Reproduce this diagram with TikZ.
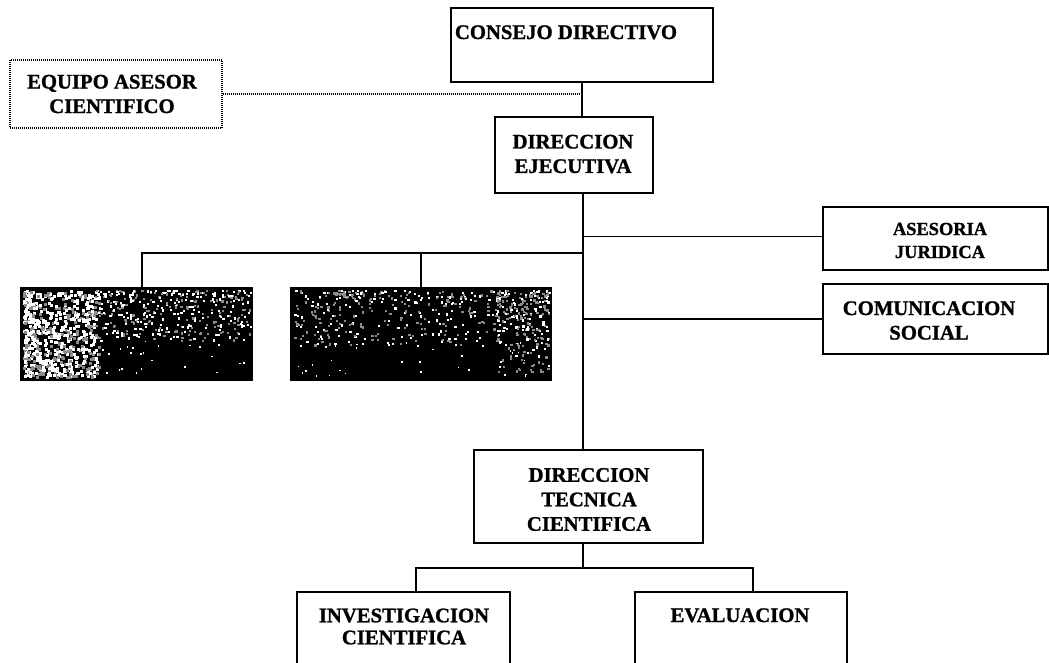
\documentclass[tikz,border=0pt]{standalone}
\usepackage{fontspec}
\setmainfont{Liberation Serif}[BoldFeatures={FakeBold=1.2}]
\usepackage{tikz}
\usetikzlibrary{positioning}

\tikzset{
  box/.style={draw, line width=1.7pt, inner sep=0pt},
  lbl/.style={font=\bfseries\fontsize{20.7}{24.5}\selectfont, align=center, inner sep=0pt},
  link/.style={line width=1.6pt}
}

\begin{document}
\begin{tikzpicture}[x=1pt, y=-1pt]
    \useasboundingbox (0,0) rectangle (1049,662);
    \clip (0,0) rectangle (1049,662);

    % Draw the boxes
    \node[box, minimum width=262pt, minimum height=74pt] (consejo) at (582,45) {};
    \node[box, dash pattern=on 1pt off 1pt, line width=1.3pt, minimum width=212pt, minimum height=68pt] (equipo) at (116,94) {};
    \node[box, minimum width=158pt, minimum height=76pt] (dirEj) at (574,155) {};
    \node[box, minimum width=225pt, minimum height=63pt] (asesoria) at (935.5,238.5) {};
    \node[box, minimum width=225pt, minimum height=70pt] (comunic) at (935.5,319) {};
    \node[box, fill=black, minimum width=231pt, minimum height=92pt] (foto1) at (136.5,334) {};
    \node[box, fill=black, minimum width=260pt, minimum height=92pt] (foto2) at (421,334) {};
    \node[box, minimum width=229pt, minimum height=93pt] (dirTec) at (588.5,496.5) {};
    \node[box, minimum width=213pt, minimum height=108pt] (invest) at (403.5,646) {};
    \node[box, minimum width=212pt, minimum height=108pt] (evalua) at (741,646) {};

    % Label the boxes
    \node[lbl, anchor=base] (consejoT) at (566,39) {CONSEJO DIRECTIVO};
    \node[lbl] (equipoT) at (112,94) {EQUIPO ASESOR\\CIENTIFICO};
    \node[lbl] (dirEjT) at (573,154) {DIRECCION\\EJECUTIVA};
    \node[lbl, font=\bfseries\fontsize{18.4}{23}\selectfont] (asesoriaT) at (940,240.5) {ASESORIA\\JURIDICA};
    \node[lbl] (comunicT) at (929,320.5) {COMUNICACION\\SOCIAL};
    \node[lbl] (dirTecT) at (589,499.5) {DIRECCION\\TECNICA\\CIENTIFICA};
    \node[lbl, font=\bfseries\fontsize{20.7}{22}\selectfont] (investT) at (404,626.5) {INVESTIGACION\\CIENTIFICA};
    \node[lbl, anchor=base] (evaluaT) at (740,622) {EVALUACION};

    % Scanned photo texture on the dark boxes
    \pgfmathsetseed{17}
    \foreach \i in {1,...,700} {
      \pgfmathsetmacro\sx{23+75*rnd^1.3}
      \pgfmathsetmacro\sy{290+86*rnd}
      \pgfmathsetmacro\sc{ifthenelse(rnd<0.35,55,100)}
      \fill[white!\sc!black] (\sx,\sy) rectangle ++(3,3);
    }
    \foreach \i in {1,...,380} {
      \pgfmathsetmacro\sx{95+155*rnd}
      \pgfmathsetmacro\sy{290+50*rnd^1.5}
      \pgfmathsetmacro\sc{ifthenelse(rnd<0.45,55,100)}
      \fill[white!\sc!black] (\sx,\sy) rectangle ++(2.2,2.2);
    }
    \foreach \i in {1,...,420} {
      \pgfmathsetmacro\sx{293+256*rnd}
      \pgfmathsetmacro\sy{290+55*rnd^1.5}
      \pgfmathsetmacro\sc{ifthenelse(rnd<0.5,55,100)}
      \fill[white!\sc!black] (\sx,\sy) rectangle ++(2.2,2.2);
    }
    \foreach \i in {1,...,160} {
      \pgfmathsetmacro\sx{495+54*rnd}
      \pgfmathsetmacro\sy{292+80*rnd^1.3}
      \pgfmathsetmacro\sc{ifthenelse(rnd<0.75,55,100)}
      \fill[white!\sc!black] (\sx,\sy) rectangle ++(2.2,2.2);
    }
    \foreach \i in {1,...,60} {
      \pgfmathsetmacro\sx{100+440*rnd}
      \pgfmathsetmacro\sy{340+36*rnd}
      \fill[white] (\sx,\sy) rectangle ++(1.6,1.6);
    }

    % Connectors
    \coordinate (trunk) at (583,193);
    \coordinate (fork) at (583,253);
    \coordinate (split) at (583,568);
    \draw[link] (consejo.south) -- (consejo.south |- dirEj.north);
    \draw[line width=1.2pt, dash pattern=on 1pt off 1pt] (equipo.east) -- (equipo.east -| consejo.south);
    \draw[link] (trunk) -- (dirTec.north -| trunk);
    \draw[link] ([yshift=2pt]asesoria.west) -- ([yshift=2pt]asesoria.west -| trunk);
    \draw[link] (comunic.west) -- (comunic.west -| trunk);
    \draw[link] (fork) -| ([xshift=5.5pt]foto1.north);
    \draw[link] (fork -| foto2.north) -- (foto2.north);
    \draw[link] (dirTec.south -| split) -- (split);
    \draw[link] ([xshift=12.5pt]invest.north) |- (split) -| ([xshift=12pt]evalua.north);
\end{tikzpicture}
\end{document}
